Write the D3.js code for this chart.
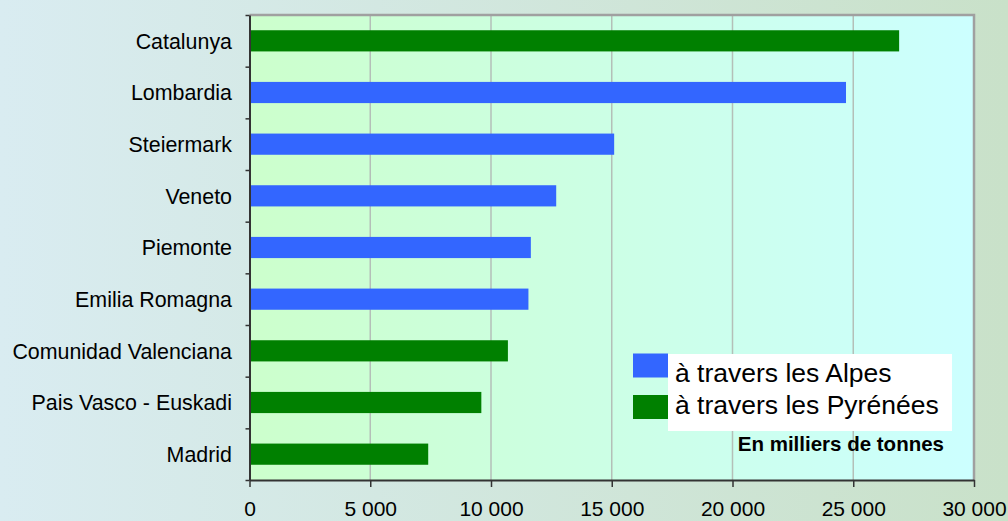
<!DOCTYPE html>
<html><head><meta charset="utf-8">
<script src="https://cdn.jsdelivr.net/npm/d3@7"></script>
<style>html,body{margin:0;padding:0;overflow:hidden;}svg{display:block;font-family:"Liberation Sans",Arial,sans-serif;}</style>
</head><body>
<svg id="chart" width="1008" height="521"></svg>
<script>
const categories = ["Catalunya","Lombardia","Steiermark","Veneto","Piemonte","Emilia Romagna","Comunidad Valenciana","Pais Vasco - Euskadi","Madrid"];
const values = [26900, 24700, 15100, 12700, 11650, 11550, 10700, 9600, 7400];
const route = ["Pyr","Alp","Alp","Alp","Alp","Alp","Pyr","Pyr","Pyr"];
const seriesNames = ["à travers les Alpes","à travers les Pyrénées"];
const seriesKeys = ["Alp","Pyr"];
const xTicks = [0, 5000, 10000, 15000, 20000, 25000, 30000];
const unitLabel = "En milliers de tonnes";

const W = 1008, H = 521;
const L = 249.5, R = 974, T = 15, B = 480;
const svg = d3.select("#chart");
const defs = svg.append("defs");
const g1 = defs.append("linearGradient").attr("id","bg").attr("x1","0").attr("x2","1").attr("y1","0").attr("y2","0");
g1.append("stop").attr("offset","0").attr("stop-color","#d9ecf1");
g1.append("stop").attr("offset","1").attr("stop-color","#c9e1c9");
const g2 = defs.append("linearGradient").attr("id","plotbg").attr("x1","0").attr("x2","1").attr("y1","0").attr("y2","0");
g2.append("stop").attr("offset","0").attr("stop-color","#ccffcc");
g2.append("stop").attr("offset","1").attr("stop-color","#ccffff");

svg.append("rect").attr("width",W).attr("height",H).attr("fill","url(#bg)");
svg.append("rect").attr("x",L).attr("y",T).attr("width",R-L).attr("height",B-T).attr("fill","url(#plotbg)");

const x = d3.scaleLinear().domain([0,30000]).range([L,R]);
const y = d3.scaleBand().domain(categories).range([T,B]).padding(0);
const color = d3.scaleOrdinal().domain(seriesKeys).range(["#3366ff","#008000"]);

// gridlines
svg.append("g").selectAll("line").data(xTicks.filter(d=>d>0 && d<30000)).join("line")
  .attr("x1",d=>x(d)).attr("x2",d=>x(d)).attr("y1",T).attr("y2",B)
  .attr("stroke","#b4bfb8").attr("stroke-width",1.5);

// border top/right
svg.append("path").attr("d",`M${L},${T} H${R} V${B}`).attr("fill","none").attr("stroke","#a0a0a0").attr("stroke-width",2.5);

// bars
const bh = y.bandwidth()*0.41;
svg.append("g").selectAll("rect").data(categories).join("rect")
  .attr("x",x(0)).attr("y",d=>y(d)+(y.bandwidth()-bh)/2)
  .attr("width",(d,i)=>x(values[i])-x(0)).attr("height",bh)
  .attr("fill",(d,i)=>color(route[i]));

// y axis: ticks at band edges
const yEdges = d3.scaleLinear().domain([0,categories.length]).range([T,B]);
const yAx = svg.append("g").attr("transform",`translate(${L},0)`)
  .call(d3.axisLeft(yEdges).tickValues(d3.range(categories.length+1)).tickFormat("").tickSize(4).tickSizeOuter(0));
yAx.select(".domain").attr("stroke","#333").attr("stroke-width",2);
yAx.selectAll(".tick line").attr("stroke","#333").attr("stroke-width",1.5);

svg.append("g").selectAll("text").data(categories).join("text")
  .attr("x",232).attr("y",d=>y(d)+y.bandwidth()/2).attr("dy","0.36em")
  .attr("text-anchor","end").attr("font-size",21.4).attr("fill","#000").text(d=>d);

// x axis
const fmt = d => d3.format(",")(d).replace(/,/g," ");
const xAx = svg.append("g").attr("transform",`translate(0,${B})`)
  .call(d3.axisBottom(x).tickValues(xTicks).tickFormat(fmt).tickSize(7).tickSizeOuter(0).tickPadding(14));
xAx.select(".domain").attr("stroke","#333").attr("stroke-width",2);
xAx.selectAll(".tick line").attr("stroke","#333").attr("stroke-width",1.5);
xAx.selectAll(".tick text").attr("font-size",21).attr("fill","#000").attr("font-family","Liberation Sans, Arial, sans-serif");

// legend
const lg = svg.append("g");
lg.append("rect").attr("x",668).attr("y",354).attr("width",284).attr("height",77).attr("fill","#fff");
seriesKeys.forEach((k,i)=>{
  lg.append("rect").attr("x",633).attr("y",353.5+i*41.5).attr("width",35).attr("height",24).attr("fill",color(k));
  lg.append("text").attr("x",675).attr("y",382+i*31.5).attr("font-size",26.5).attr("fill","#000").text(seriesNames[i]);
});
svg.append("text").attr("x",944).attr("y",451).attr("text-anchor","end").attr("font-size",20.5).attr("font-weight","bold").attr("fill","#000").text(unitLabel);
</script>
</body></html>
